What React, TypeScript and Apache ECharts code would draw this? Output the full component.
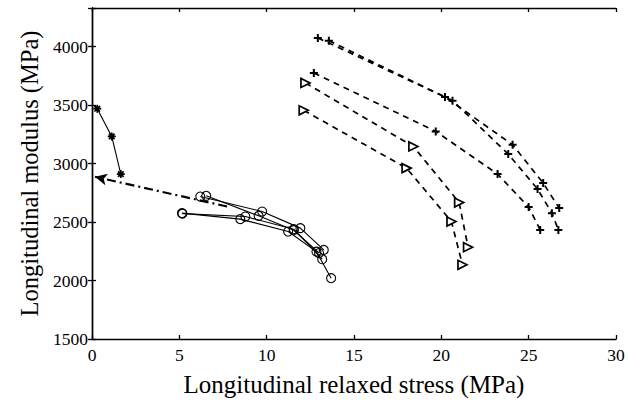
import React, { useEffect, useRef } from "react";
import * as echarts from "echarts";

// Star series (solid line)
const starPts: [number, number][] = [
  [0.3, 3469],
  [1.13, 3232],
  [1.65, 2910],
];

// Dash-dot arrow (from end near circles to tip at left axis)
const arrowPts: [number, number][] = [
  [7.73, 2633],
  [0.17, 2887],
];

// Circle series (solid lines)
const circleA: [number, number][] = [
  [5.15, 2576],
  [8.49, 2525],
  [11.23, 2419],
  [12.85, 2247],
  [13.69, 2020],
];
const circleB: [number, number][] = [
  [5.18, 2572],
  [8.78, 2547],
  [11.55, 2439],
  [13.18, 2182],
];
const circleC: [number, number][] = [
  [6.2, 2718],
  [9.74, 2590],
  [11.93, 2448],
  [13.27, 2262],
];
const circleD: [number, number][] = [
  [6.54, 2724],
  [9.54, 2553],
  [11.55, 2430],
  [13.0, 2235],
];

// Plus series (dashed)
const plusA: [number, number][] = [
  [12.93, 4074],
  [20.21, 3569],
  [24.08, 3161],
  [25.83, 2833],
  [26.75, 2619],
];
const plusB: [number, number][] = [
  [13.56, 4051],
  [20.64, 3538],
  [23.83, 3081],
  [25.51, 2782],
  [26.33, 2576],
  [26.7, 2433],
];
const plusC: [number, number][] = [
  [12.7, 3775],
  [19.68, 3275],
  [23.22, 2910],
  [25.0, 2628],
  [25.66, 2433],
];

// Triangle series (dashed)
const triA: [number, number][] = [
  [12.22, 3689],
  [18.4, 3146],
  [21.02, 2667],
  [21.53, 2285],
];
const triB: [number, number][] = [
  [12.12, 3455],
  [18.01, 2961],
  [20.58, 2504],
  [21.21, 2134],
];

const xTicks = [0, 5, 10, 15, 20, 25, 30];
const yTicks = [1500, 2000, 2500, 3000, 3500, 4000];

const FONT = "'Liberation Serif', 'Times New Roman', serif";
const PLUS = "path://M5,0V10M0,5H10";
const STAR = "path://M5,0V10M0,5H10M1.5,1.5L8.5,8.5M8.5,1.5L1.5,8.5";

export default function App() {
  const ref = useRef<HTMLDivElement>(null);
  useEffect(() => {
    if (!ref.current) return;
    const chart = echarts.init(ref.current, null, { renderer: "svg" });
    const axisCommon = {
      axisLine: { show: true, lineStyle: { color: "#000", width: 1.4 } },
      axisTick: { show: true, inside: true, length: 4, lineStyle: { color: "#000", width: 1.3 } },
      splitLine: { show: false },
    };
    const circleSeries = (d: [number, number][]) => ({
      type: "line",
      data: d,
      symbol: "circle",
      symbolSize: 9,
      lineStyle: { color: "#000", width: 1.1 },
      itemStyle: { color: "rgba(255,255,255,0)", borderColor: "#000", borderWidth: 1.1 },
      z: 3,
    });
    const plusSeries = (d: [number, number][]) => ({
      type: "line",
      data: d,
      symbol: PLUS,
      symbolSize: 8,
      lineStyle: { color: "#000", width: 1.7, type: [6, 5] },
      itemStyle: { color: "none", borderColor: "#000", borderWidth: 2 },
    });
    const triSeries = (d: [number, number][]) => ({
      type: "line",
      data: d,
      symbol: "triangle",
      symbolRotate: -90,
      symbolSize: 9,
      lineStyle: { color: "#000", width: 1.7, type: [6, 5] },
      itemStyle: { color: "#fff", borderColor: "#000", borderWidth: 1.7 },
    });
    chart.setOption({
      animation: false,
      backgroundColor: "#fff",
      grid: { left: 92, right: 12, top: 8, bottom: 65 },
      xAxis: [
        {
          type: "value",
          min: xTicks[0],
          max: xTicks[xTicks.length - 1],
          interval: 5,
          name: "Longitudinal relaxed stress (MPa)",
          nameLocation: "middle",
          nameGap: 33,
          nameTextStyle: { fontFamily: FONT, fontSize: 25, color: "#000" },
          axisLabel: { fontFamily: FONT, fontSize: 17.5, color: "#000", margin: 7 },
          ...axisCommon,
        },
        {
          type: "value",
          position: "top",
          min: xTicks[0],
          max: xTicks[xTicks.length - 1],
          interval: 5,
          axisLabel: { show: false },
          ...axisCommon,
        },
      ],
      yAxis: [
        {
          type: "value",
          min: yTicks[0],
          max: 4330,
          interval: 500,
          name: "Longitudinal modulus (MPa)",
          nameLocation: "middle",
          nameGap: 49,
          nameTextStyle: { fontFamily: FONT, fontSize: 24.5, color: "#000" },
          axisLabel: {
            fontFamily: FONT,
            fontSize: 17.5,
            color: "#000",
            margin: 4,
            formatter: (v: number) => (yTicks.includes(v) ? String(v) : ""),
          },
          ...axisCommon,
        },
        {
          type: "value",
          position: "right",
          min: yTicks[0],
          max: 4330,
          interval: 500,
          axisLabel: { show: false },
          ...axisCommon,
        },
      ],
      series: [
        {
          type: "line",
          data: starPts,
          symbol: STAR,
          symbolSize: 8,
          lineStyle: { color: "#000", width: 1.1 },
          itemStyle: { color: "none", borderColor: "#000", borderWidth: 1.7 },
        },
        {
          type: "line",
          data: arrowPts.map((p, i) =>
            i === arrowPts.length - 1
              ? { value: p, symbol: "arrow", symbolSize: [9, 12], symbolRotate: 77 }
              : { value: p, symbol: "none" }
          ),
          lineStyle: { color: "#000", width: 2.2, type: [9, 4, 2, 4] },
          itemStyle: { color: "#000" },
        },
        circleSeries(circleA),
        circleSeries(circleB),
        circleSeries(circleC),
        circleSeries(circleD),
        plusSeries(plusA),
        plusSeries(plusB),
        plusSeries(plusC),
        triSeries(triA),
        triSeries(triB),
      ],
    });
    return () => chart.dispose();
  }, []);
  return (
    <div
      ref={ref}
      style={{ position: "fixed", left: 0, top: 0, width: 628, height: 404, background: "#fff" }}
    />
  );
}
